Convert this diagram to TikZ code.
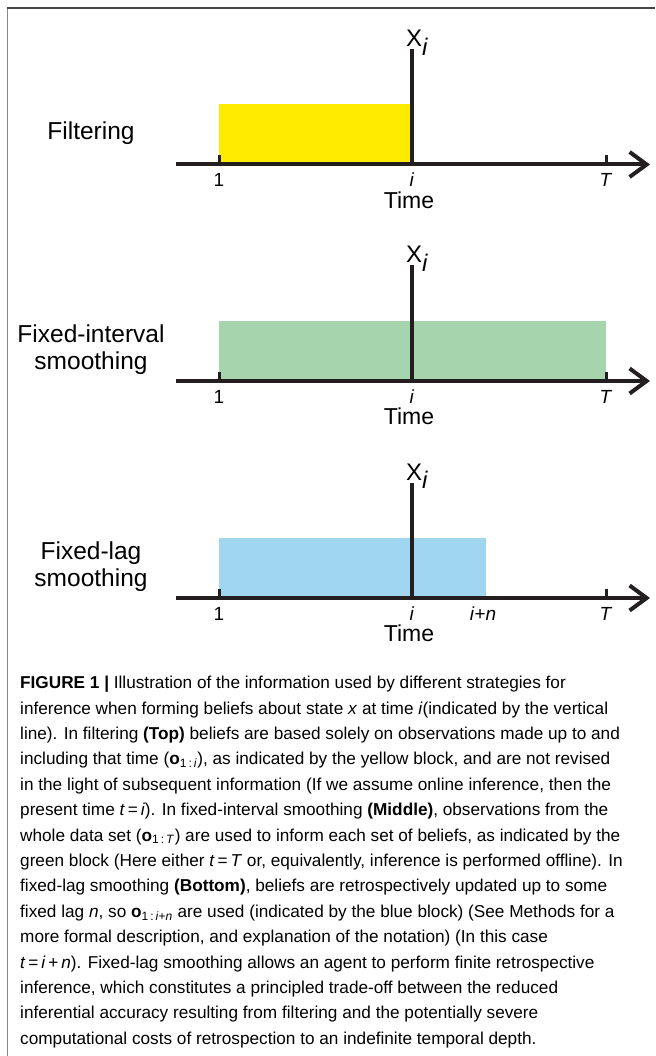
\documentclass[tikz,border=0pt]{standalone}
\usepackage{fontspec}
\setmainfont{Liberation Sans}
\usetikzlibrary{arrows.meta,positioning}
\definecolor{ink}{RGB}{35,31,32}
\definecolor{filtyellow}{RGB}{255,235,0}
\definecolor{intgreen}{RGB}{166,212,173}
\definecolor{lagblue}{RGB}{160,214,240}
\definecolor{framegray}{RGB}{70,70,70}
\definecolor{sidegray}{RGB}{135,135,135}
\newcommand{\obsvec}[1]{\textbf{o}\textsubscript{#1}}
\tikzset{
  axisline/.style={ink,line width=4pt,-{Straight Barb[length=17pt,width=25pt]}},
  tickmark/.style={ink,line width=3pt},
  nowline/.style={ink,line width=4pt},
  statelabel/.style={font=\fontsize{24}{26}\selectfont,inner sep=0pt,anchor=base west},
  ticklabel/.style={font=\fontsize{19}{21}\selectfont,inner sep=0pt},
  timelabel/.style={font=\fontsize{23}{25}\selectfont,inner sep=0pt},
  methodlabel/.style={font=\fontsize{24.5}{27}\selectfont,align=center,inner sep=0pt},
}
\begin{document}
\begin{tikzpicture}[x=1pt,y=-1pt]
  \useasboundingbox (0,0) rectangle (655,1056);
  % frame
  \draw[sidegray,line width=1.5pt] (7.5,8) -- (7.5,1056);
  \draw[framegray,line width=2pt] (6.75,8) -- (655,8);

  % filtering
  \begin{scope}
    \fill[filtyellow] (219,104) rectangle (412,164.5);
    \coordinate (start1) at (176,164.5);
    \coordinate (end1) at (650,164.5);
    \coordinate (one1) at (219,164.5);
    \coordinate (now1) at (412,164.5);
    \coordinate (last1) at (606,164.5);
    \coordinate (top1) at (412,49);
    \draw[axisline] (start1) -- (end1);
    \draw[tickmark] (one1) -- ++(0,-9);
    \draw[tickmark] (last1) -- ++(0,-9);
    \draw[nowline] (top1) -- (now1);
    \node[statelabel] (state1) at (406,46.5) {X$_{\textit{i}}$};
    \node[ticklabel] (lbone1) at (219,180) {1};
    \node[ticklabel] (lbnow1) at (412,180) {\textit{i}};
    \node[ticklabel] (lblast1) at (606,180) {\textit{T}};
    \node[timelabel] (time1) at (409,200) {Time};
    \node[methodlabel] (method1) at (91,133) {Filtering};
  \end{scope}

  % fixed-interval smoothing
  \begin{scope}[shift={(0,216.5)}]
    \fill[intgreen] (219,104) rectangle (606,164.5);
    \coordinate (start2) at (176,164.5);
    \coordinate (end2) at (650,164.5);
    \coordinate (one2) at (219,164.5);
    \coordinate (now2) at (412,164.5);
    \coordinate (last2) at (606,164.5);
    \coordinate (top2) at (412,49);
    \draw[axisline] (start2) -- (end2);
    \draw[tickmark] (one2) -- ++(0,-9);
    \draw[tickmark] (last2) -- ++(0,-9);
    \draw[nowline] (top2) -- (now2);
    \node[statelabel] (state2) at (406,46.5) {X$_{\textit{i}}$};
    \node[ticklabel] (lbone2) at (219,180) {1};
    \node[ticklabel] (lbnow2) at (412,180) {\textit{i}};
    \node[ticklabel] (lblast2) at (606,180) {\textit{T}};
    \node[timelabel] (time2) at (409,200) {Time};
    \node[methodlabel] (method2) at (91,133) {Fixed-interval\\smoothing};
  \end{scope}

  % fixed-lag smoothing
  \begin{scope}[shift={(0,433.5)}]
    \fill[lagblue] (219,104) rectangle (486,164.5);
    \coordinate (start3) at (176,164.5);
    \coordinate (end3) at (650,164.5);
    \coordinate (one3) at (219,164.5);
    \coordinate (now3) at (412,164.5);
    \coordinate (last3) at (606,164.5);
    \coordinate (top3) at (412,49);
    \draw[axisline] (start3) -- (end3);
    \draw[tickmark] (one3) -- ++(0,-9);
    \draw[tickmark] (last3) -- ++(0,-9);
    \draw[nowline] (top3) -- (now3);
    \node[statelabel] (state3) at (406,46.5) {X$_{\textit{i}}$};
    \node[ticklabel] (lbone3) at (219,180) {1};
    \node[ticklabel] (lbnow3) at (412,180) {\textit{i}};
    \node[ticklabel] (lblag3) at (483,180) {\textit{i}+\textit{n}};
    \node[ticklabel] (lblast3) at (606,180) {\textit{T}};
    \node[timelabel] (time3) at (409,200) {Time};
    \node[methodlabel] (method3) at (91,133) {Fixed-lag\\smoothing};
  \end{scope}

  % caption
  \node[anchor=north west,align=left,inner sep=0pt,
        font=\fontsize{17.2}{25.4}\selectfont] (caption) at (20,676) {%
    \textbf{FIGURE 1 |} Illustration of the information used by different strategies for\\
    inference when forming beliefs about state \textit{x} at time \textit{i}(indicated by the vertical\\
    line). In filtering \textbf{(Top)} beliefs are based solely on observations made up to and\\
    including that time (\obsvec{1\,:\,\textit{i}}), as indicated by the yellow block, and are not revised\\
    in the light of subsequent information (If we assume online inference, then the\\
    present time \textit{t}\,=\,\textit{i}). In fixed-interval smoothing \textbf{(Middle)}, observations from the\\
    whole data set (\obsvec{1\,:\,\textit{T}}) are used to inform each set of beliefs, as indicated by the\\
    green block (Here either \textit{t}\,=\,\textit{T} or, equivalently, inference is performed offline). In\\
    fixed-lag smoothing \textbf{(Bottom)}, beliefs are retrospectively updated up to some\\
    fixed lag \textit{n}, so \obsvec{1\,:\,\textit{i}+\textit{n}} are used (indicated by the blue block) (See Methods for a\\
    more formal description, and explanation of the notation) (In this case\\
    \textit{t}\,=\,\textit{i}\,+\,\textit{n}). Fixed-lag smoothing allows an agent to perform finite retrospective\\
    inference, which constitutes a principled trade-off between the reduced\\
    inferential accuracy resulting from filtering and the potentially severe\\
    computational costs of retrospection to an indefinite temporal depth.};
\end{tikzpicture}
\end{document}
